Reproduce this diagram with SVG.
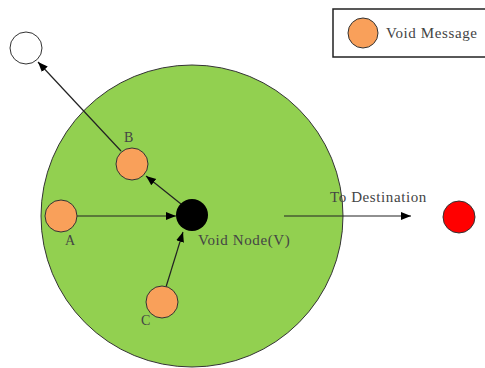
<svg xmlns="http://www.w3.org/2000/svg" width="485" height="368" viewBox="0 0 485 368">
<defs>
<marker id="ah" viewBox="0 0 10 10" refX="10" refY="5" markerWidth="10" markerHeight="10" markerUnits="userSpaceOnUse" orient="auto">
<path d="M0,1 L10,5 L0,9 z" fill="#000"/>
</marker>
<style>
.msg{fill:#f9a05a;stroke:#333;stroke-width:1}
.lbl{font-family:"Liberation Serif","Times New Roman",serif;font-size:14px;fill:#444}
.big{font-size:15px;letter-spacing:0.6px}
.conn line{stroke:#222;stroke-width:1.2;marker-end:url(#ah)}
</style>
</defs>
<rect width="485" height="368" fill="#fff"/>
<g id="area"><circle cx="192" cy="216" r="151" fill="#92d050" stroke="#333" stroke-width="1"/></g>
<g id="legend">
<rect x="333" y="9" width="160" height="48" fill="#fff" stroke="#222" stroke-width="1.5"/>
<circle class="msg" cx="363" cy="33" r="15"/>
<text class="lbl big" x="386" y="38">Void Message</text>
</g>
<g class="conn" id="connectors">
<line x1="77" y1="216" x2="176" y2="216"/>
<line x1="181" y1="204" x2="146" y2="176"/>
<line x1="121" y1="151" x2="38" y2="62"/>
<line x1="166" y1="287" x2="183" y2="232"/>
<line x1="284" y1="216" x2="411" y2="216"/>
</g>
<g id="white"><circle cx="26" cy="48" r="16" fill="#fff" stroke="#333" stroke-width="1"/></g>
<g id="V"><circle cx="192" cy="215" r="16" fill="#000"/><text class="lbl big" x="198" y="245">Void Node(V)</text></g>
<g id="A"><circle class="msg" cx="61" cy="216" r="16"/><text class="lbl" x="65" y="245">A</text></g>
<g id="B"><circle class="msg" cx="132" cy="164" r="16"/><text class="lbl" x="124" y="142">B</text></g>
<g id="C"><circle class="msg" cx="162" cy="302" r="16"/><text class="lbl" x="141" y="325">C</text></g>
<g id="dest"><circle cx="459" cy="217" r="16" fill="#ff0000" stroke="#333" stroke-width="1"/></g>
<text class="lbl big" x="330" y="202">To Destination</text>
</svg>
